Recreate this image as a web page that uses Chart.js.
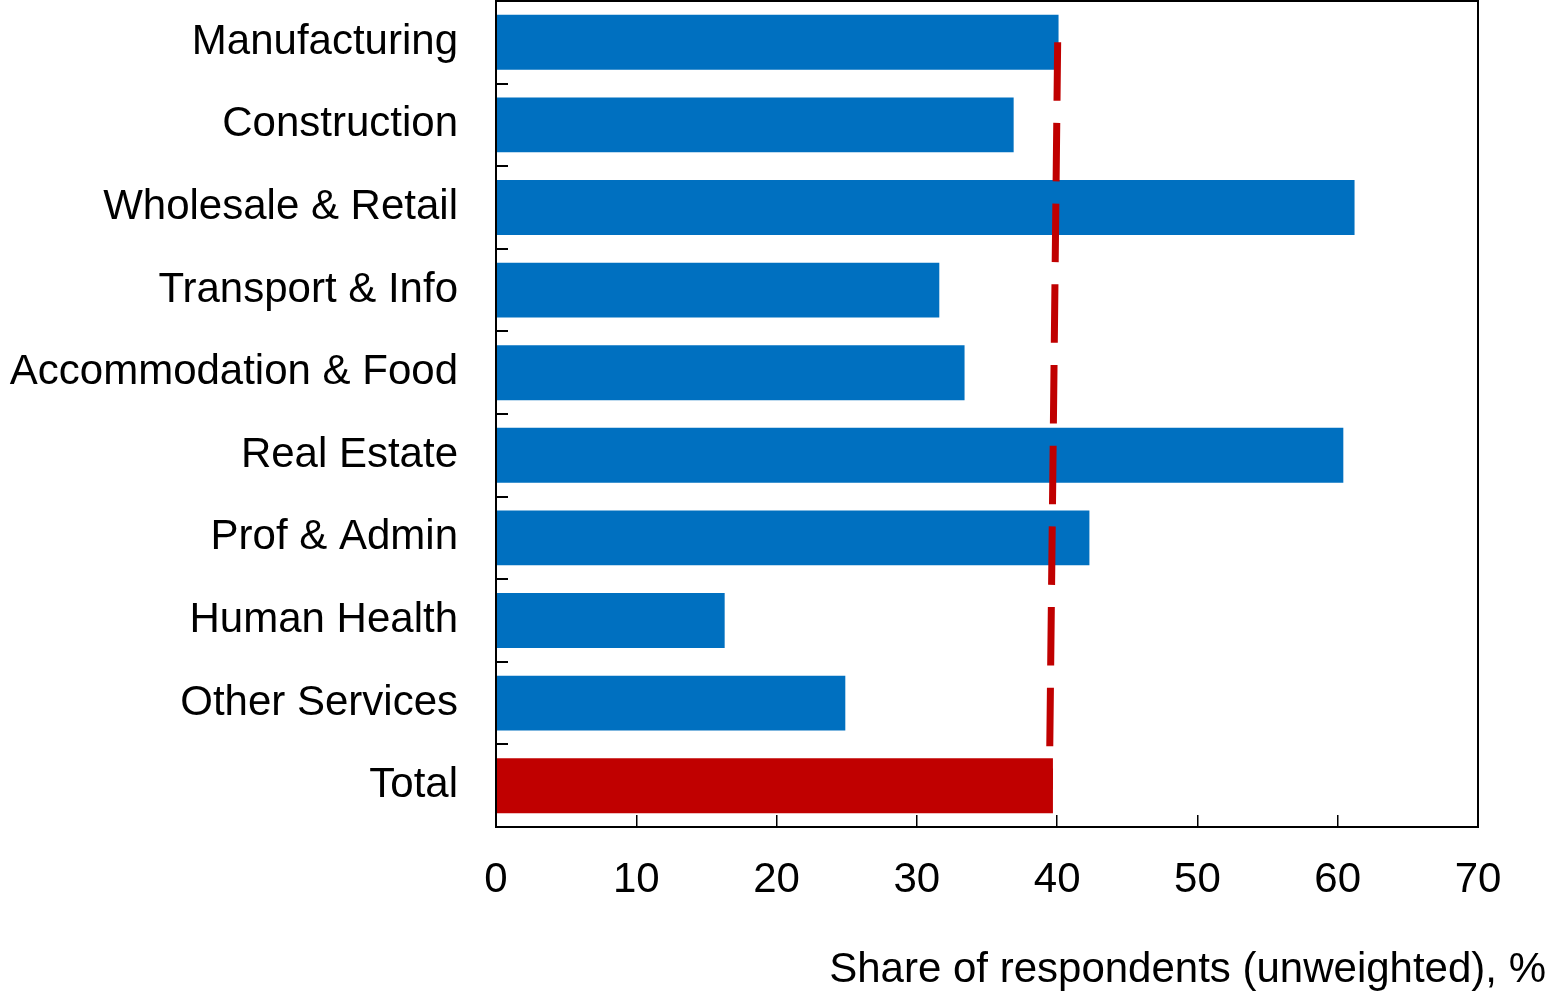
<!DOCTYPE html>
<html>
<head>
<meta charset="utf-8">
<script src="https://cdn.jsdelivr.net/npm/chart.js@4.4.1/dist/chart.umd.min.js"></script>
<style>
  html, body { margin: 0; padding: 0; background: #fff; }
  #wrap { width: 1546px; height: 991px; }
</style>
</head>
<body>
<div id="wrap"><canvas id="chart"></canvas></div>
<script>
const categories = ['Manufacturing', 'Construction', 'Wholesale & Retail', 'Transport & Info',
    'Accommodation & Food', 'Real Estate', 'Prof & Admin', 'Human Health', 'Other Services', 'Total'];
const shares = [40.1, 36.9, 61.2, 31.6, 33.4, 60.4, 42.3, 16.3, 24.9, 39.7];
const barColors = ['#0070C0', '#0070C0', '#0070C0', '#0070C0', '#0070C0',
    '#0070C0', '#0070C0', '#0070C0', '#0070C0', '#C00000'];
// dashed reference line: share % at the bottom and at the top of the plot
const refLineX = [39.44, 40.04];
const refLineY = [0, 1];
const xTicks = [0, 10, 20, 30, 40, 50, 60, 70];
const xTitle = 'Share of respondents (unweighted), %';

const font = 'Liberation Sans, Arial, sans-serif';

// thin black box round the plot area
const framePlugin = {
    id: 'frame',
    afterDraw(chart) {
        const a = chart.chartArea;
        const ctx = chart.ctx;
        ctx.save();
        ctx.strokeStyle = '#000';
        ctx.lineWidth = 2;
        ctx.strokeRect(a.left, a.top, a.right - a.left, a.bottom - a.top);
        ctx.restore();
    }
};

new Chart(document.getElementById('chart'), {
    type: 'bar',
    data: {
        labels: categories,
        datasets: [{
            type: 'bar',
            data: shares,
            backgroundColor: barColors,
            categoryPercentage: 1,
            barPercentage: 0.665,
            grouped: false,
            xAxisID: 'x',
            yAxisID: 'y',
            order: 2
        }, {
            type: 'line',
            indexAxis: 'y',
            data: refLineX.map((v, i) => ({ x: v, y: refLineY[i] })),
            borderColor: '#C00000',
            borderWidth: 7,
            borderDash: [58.5, 22.2],
            borderDashOffset: 37.5,
            borderCapStyle: 'butt',
            pointRadius: 0,
            fill: false,
            xAxisID: 'x',
            yAxisID: 'y2',
            order: 1
        }]
    },
    options: {
        indexAxis: 'y',
        responsive: true,
        maintainAspectRatio: false,
        animation: false,
        layout: { padding: { top: 1, left: 0, right: 0, bottom: 0 } },
        scales: {
            x: {
                type: 'linear',
                position: 'bottom',
                min: 0,
                max: 70,
                afterBuildTicks: s => { s.ticks = xTicks.map(v => ({ value: v })); },
                afterFit: s => { s.height = 100; },
                grid: { drawOnChartArea: false, tickLength: -12, color: '#000', lineWidth: 1.5 },
                border: { display: true, color: '#000', width: 2 },
                ticks: { color: '#000', font: { family: font, size: 42 }, padding: 40, maxRotation: 0 }
            },
            y: {
                type: 'category',
                position: 'left',
                afterFit: s => { s.width = 496; s.paddingTop = 0; s.paddingBottom = 0; },
                grid: { offset: true, drawOnChartArea: false, tickLength: -12, color: '#000', lineWidth: 2 },
                border: { display: true, color: '#000', width: 2 },
                ticks: { color: '#000', font: { family: font, size: 42 }, padding: 50, autoSkip: false }
            },
            y2: {
                type: 'linear',
                position: 'right',
                min: 0,
                max: 1,
                afterFit: s => { s.width = 68; },
                grid: { display: false },
                border: { display: false },
                ticks: { display: false }
            }
        },
        plugins: {
            legend: { display: false },
            tooltip: { enabled: false },
            title: {
                display: true,
                text: xTitle,
                position: 'bottom',
                align: 'end',
                color: '#000',
                font: { family: font, size: 42, weight: 'normal', lineHeight: 1 },
                padding: { top: 22, bottom: 0 }
            }
        }
    },
    plugins: [framePlugin]
});
</script>
</body>
</html>
